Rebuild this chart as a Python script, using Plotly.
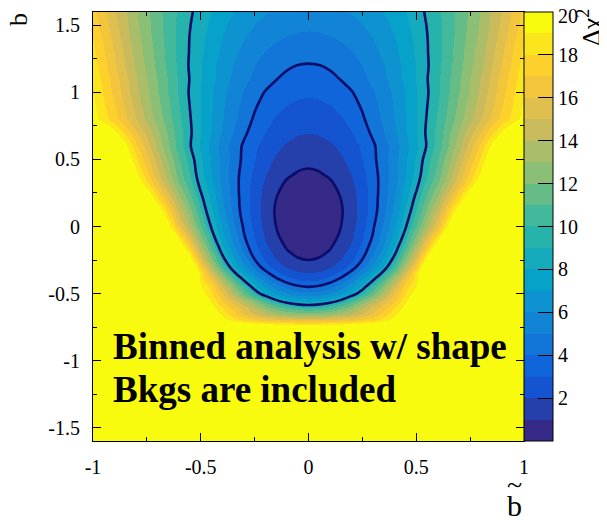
import numpy as np
import plotly.graph_objects as go

# ---------------- data ----------------
b_tilde = [-1.0, -0.9, -0.8, -0.7, -0.6, -0.5, -0.45, -0.4, -0.35, -0.3, -0.25,
           -0.2, -0.15, -0.1, -0.05, 0.0, 0.05, 0.1, 0.15, 0.2, 0.25, 0.3, 0.35,
           0.4, 0.45, 0.5, 0.6, 0.7, 0.8, 0.9, 1.0]
b_vals = [-1.6, -1.3, -1.0, -0.9, -0.8, -0.75, -0.7, -0.65, -0.6, -0.55, -0.5,
          -0.45, -0.4, -0.35, -0.3, -0.25, -0.2, -0.15, -0.1, -0.05, 0.0, 0.05,
          0.1, 0.15, 0.2, 0.25, 0.3, 0.35, 0.4, 0.5, 0.6, 0.7, 0.8, 0.9, 1.0,
          1.1, 1.2, 1.3, 1.4, 1.5, 1.6]
# delta chi^2, one row per b value (bottom to top), columns follow b_tilde
dchi2 = [
    [121, 117, 113, 110, 107, 105, 104, 103, 102.5, 102, 101.5, 101, 100.5, 100, 100, 100, 100, 100, 100.5, 101, 101.5, 102, 102.5, 103, 104, 105, 107, 110, 113, 117, 121],
    [91, 87, 83, 80, 77, 75, 74, 73, 72.5, 72, 71.5, 71, 70.5, 70, 70, 70, 70, 70, 70.5, 71, 71.5, 72, 72.5, 73, 74, 75, 77, 80, 83, 87, 91],
    [64, 60, 56, 53, 50, 48, 47.5, 47, 46.5, 46, 45.5, 45, 44.5, 44, 44, 44, 44, 44, 44.5, 45, 45.5, 46, 46.5, 47, 47.5, 48, 50, 53, 56, 60, 64],
    [53, 49, 45, 42, 39.5, 37.5, 36.7, 36, 35.5, 35, 34.7, 34.5, 34.3, 34.1, 34.02, 34, 34.02, 34.1, 34.3, 34.5, 34.7, 35, 35.5, 36, 36.7, 37.5, 39.5, 42, 45, 49, 53],
    [48, 43, 39, 35, 32.5, 30, 29.2, 28.5, 27.8, 27.2, 26.8, 26.5, 26.3, 26.1, 26.02, 26, 26.02, 26.1, 26.3, 26.5, 26.8, 27.2, 27.8, 28.5, 29.2, 30, 32.5, 35, 39, 43, 48],
    [45, 40, 35, 31, 28, 25, 24, 23, 22.3, 21.7, 21.3, 21, 20.8, 20.6, 20.52, 20.5, 20.52, 20.6, 20.8, 21, 21.3, 21.7, 22.3, 23, 24, 25, 28, 31, 35, 40, 45],
    [44, 38, 33, 29, 25, 22, 20.7, 19.5, 18.6, 17.8, 17.25, 16.8, 16.45, 16.2, 16.05, 16, 16.05, 16.2, 16.45, 16.8, 17.25, 17.8, 18.6, 19.5, 20.7, 22, 25, 29, 33, 38, 44],
    [47, 40, 34, 29, 25, 21.5, 20.1, 18.8, 17.35, 16.1, 15.1, 14.2, 13.45, 12.9, 12.6, 12.5, 12.6, 12.9, 13.45, 14.2, 15.1, 16.1, 17.35, 18.8, 20.1, 21.5, 25, 29, 34, 40, 47],
    [50, 43, 36, 30, 25, 21, 19.4, 17.9, 16.65, 15.3, 13.85, 12.5, 11.35, 10.5, 9.93, 9.74, 9.93, 10.5, 11.35, 12.5, 13.85, 15.3, 16.65, 17.9, 19.4, 21, 25, 30, 36, 43, 50],
    [60, 50, 41, 33, 26, 20.5, 18.6, 16.9, 15.27, 13.6, 11.87, 10.4, 9.07, 8.1, 7.47, 7.27, 7.47, 8.1, 9.07, 10.4, 11.87, 13.6, 15.27, 16.9, 18.6, 20.5, 26, 33, 41, 50, 60],
    [68, 56, 45, 36, 27, 19.7, 18.1, 16.3, 13.86, 11.67, 9.79, 8.23, 7, 6.11, 5.58, 5.4, 5.58, 6.11, 7, 8.23, 9.79, 11.67, 13.86, 16.3, 18.1, 19.7, 27, 36, 45, 56, 68],
    [72, 59, 47, 37, 27, 19.1, 17.6, 15.2, 12.6, 10.4, 8.38, 6.9, 5.58, 4.72, 4.18, 4, 4.18, 4.72, 5.58, 6.9, 8.38, 10.4, 12.6, 15.2, 17.6, 19.1, 27, 37, 47, 59, 72],
    [71, 58, 46, 35.5, 26, 18.5, 16.61, 13.72, 11.17, 8.96, 7.09, 5.56, 4.37, 3.52, 3.01, 2.84, 3.01, 3.52, 4.37, 5.56, 7.09, 8.96, 11.17, 13.72, 16.61, 18.5, 26, 35.5, 46, 58, 71],
    [90, 68.7, 51.4, 37.6, 26.77, 18.38, 14.98, 12.05, 9.56, 7.46, 5.74, 4.37, 3.32, 2.58, 2.15, 2, 2.15, 2.58, 3.32, 4.37, 5.74, 7.46, 9.56, 12.05, 14.98, 18.38, 26.77, 37.6, 51.4, 68.7, 90],
    [105, 77, 55, 38.6, 26.2, 17.09, 13.58, 10.65, 8.23, 6.26, 4.68, 3.45, 2.53, 1.9, 1.52, 1.4, 1.52, 1.9, 2.53, 3.45, 4.68, 6.26, 8.23, 10.65, 13.58, 17.09, 26.2, 38.6, 55, 77, 105],
    [98.5, 72, 51.4, 35.78, 24.12, 15.63, 12.35, 9.61, 7.35, 5.52, 4.05, 2.9, 2.05, 1.46, 1.11, 1, 1.11, 1.46, 2.05, 2.9, 4.05, 5.52, 7.35, 9.61, 12.35, 15.63, 24.12, 35.78, 51.4, 72, 98.5],
    [92.8, 67.7, 48.3, 33.5, 22.5, 14.48, 11.39, 8.81, 6.68, 4.95, 3.57, 2.49, 1.69, 1.13, 0.81, 0.7, 0.81, 1.13, 1.69, 2.49, 3.57, 4.95, 6.68, 8.81, 11.39, 14.48, 22.5, 33.5, 48.3, 67.7, 92.8],
    [82.28, 60.58, 43.62, 30.57, 20.71, 13.43, 10.58, 8.19, 6.2, 4.57, 3.25, 2.22, 1.44, 0.9, 0.58, 0.48, 0.58, 0.9, 1.44, 2.22, 3.25, 4.57, 6.2, 8.19, 10.58, 13.43, 20.71, 30.57, 43.62, 60.58, 82.28],
    [72.9, 54.2, 39.5, 27.95, 19.13, 12.51, 9.88, 7.66, 5.79, 4.24, 2.98, 1.99, 1.24, 0.71, 0.4, 0.3, 0.4, 0.71, 1.24, 1.99, 2.98, 4.24, 5.79, 7.66, 9.88, 12.51, 19.13, 27.95, 39.5, 54.2, 72.9],
    [61.35, 46.64, 34.71, 25.14, 17.57, 11.7, 9.31, 7.25, 5.5, 4.02, 2.8, 1.83, 1.09, 0.56, 0.25, 0.15, 0.25, 0.56, 1.09, 1.83, 2.8, 4.02, 5.5, 7.25, 9.31, 11.7, 17.57, 25.14, 34.71, 46.64, 61.35],
    [51.6, 40.2, 30.7, 22.8, 16.29, 11.06, 8.86, 6.95, 5.28, 3.87, 2.68, 1.73, 0.99, 0.47, 0.15, 0.05, 0.15, 0.47, 0.99, 1.73, 2.68, 3.87, 5.28, 6.95, 8.86, 11.06, 16.29, 22.8, 30.7, 40.2, 51.6],
    [48.21, 37.82, 29.02, 21.63, 15.52, 10.56, 8.48, 6.65, 5.05, 3.69, 2.55, 1.63, 0.92, 0.41, 0.11, 0.01, 0.11, 0.41, 0.92, 1.63, 2.55, 3.69, 5.05, 6.65, 8.48, 10.56, 15.52, 21.63, 29.02, 37.82, 48.21],
    [45, 35.5, 27.4, 20.55, 14.82, 10.13, 8.14, 6.39, 4.87, 3.56, 2.46, 1.57, 0.88, 0.39, 0.1, 0, 0.1, 0.39, 0.88, 1.57, 2.46, 3.56, 4.87, 6.39, 8.14, 10.13, 14.82, 20.55, 27.4, 35.5, 45],
    [41.05, 32.8, 25.6, 19.39, 14.12, 9.74, 7.87, 6.21, 4.75, 3.49, 2.44, 1.58, 0.91, 0.43, 0.15, 0.05, 0.15, 0.43, 0.91, 1.58, 2.44, 3.49, 4.75, 6.21, 7.87, 9.74, 14.12, 19.39, 25.6, 32.8, 41.05],
    [37.16, 30.13, 23.84, 18.29, 13.48, 9.41, 7.65, 6.08, 4.69, 3.49, 2.47, 1.64, 0.99, 0.53, 0.25, 0.16, 0.25, 0.53, 0.99, 1.64, 2.47, 3.49, 4.69, 6.08, 7.65, 9.41, 13.48, 18.29, 23.84, 30.13, 37.16],
    [34.29, 28.06, 22.4, 17.33, 12.88, 9.07, 7.42, 5.93, 4.62, 3.47, 2.5, 1.71, 1.09, 0.65, 0.38, 0.29, 0.38, 0.65, 1.09, 1.71, 2.5, 3.47, 4.62, 5.93, 7.42, 9.07, 12.88, 17.33, 22.4, 28.06, 34.29],
    [30.96, 25.7, 20.79, 16.28, 12.25, 8.74, 7.2, 5.81, 4.57, 3.49, 2.57, 1.81, 1.22, 0.8, 0.55, 0.46, 0.55, 0.8, 1.22, 1.81, 2.57, 3.49, 4.57, 5.81, 7.2, 8.74, 12.25, 16.28, 20.79, 25.7, 30.96],
    [29.66, 24.61, 19.91, 15.62, 11.79, 8.47, 7.02, 5.7, 4.54, 3.52, 2.65, 1.94, 1.38, 0.98, 0.74, 0.66, 0.74, 0.98, 1.38, 1.94, 2.65, 3.52, 4.54, 5.7, 7.02, 8.47, 11.79, 15.62, 19.91, 24.61, 29.66],
    [28.68, 23.78, 19.25, 15.13, 11.47, 8.3, 6.91, 5.66, 4.55, 3.59, 2.76, 2.09, 1.56, 1.18, 0.96, 0.88, 0.96, 1.18, 1.56, 2.09, 2.76, 3.59, 4.55, 5.66, 6.91, 8.3, 11.47, 15.13, 19.25, 23.78, 28.68],
    [26.95, 22.42, 18.23, 14.42, 11.03, 8.11, 6.83, 5.67, 4.65, 3.75, 2.99, 2.37, 1.88, 1.53, 1.32, 1.25, 1.32, 1.53, 1.88, 2.37, 2.99, 3.75, 4.65, 5.67, 6.83, 8.11, 11.03, 14.42, 18.23, 22.42, 26.95],
    [26.13, 21.48, 17.31, 13.64, 10.45, 7.76, 6.59, 5.55, 4.63, 3.84, 3.16, 2.61, 2.18, 1.88, 1.69, 1.63, 1.69, 1.88, 2.18, 2.61, 3.16, 3.84, 4.63, 5.55, 6.59, 7.76, 10.45, 13.64, 17.31, 21.48, 26.13],
    [22.5, 19.3, 16.16, 13.17, 10.42, 7.97, 6.88, 5.89, 4.99, 4.21, 3.54, 2.99, 2.56, 2.25, 2.06, 2, 2.06, 2.25, 2.56, 2.99, 3.54, 4.21, 4.99, 5.89, 6.88, 7.97, 10.42, 13.17, 16.16, 19.3, 22.5],
    [19.49, 17.33, 14.97, 12.54, 10.18, 7.99, 6.99, 6.07, 5.23, 4.5, 3.86, 3.33, 2.91, 2.61, 2.43, 2.37, 2.43, 2.61, 2.91, 3.33, 3.86, 4.5, 5.23, 6.07, 6.99, 7.99, 10.18, 12.54, 14.97, 17.33, 19.49],
    [19.25, 16.99, 14.62, 12.26, 10, 7.94, 7.01, 6.16, 5.38, 4.7, 4.12, 3.63, 3.25, 2.97, 2.81, 2.75, 2.81, 2.97, 3.25, 3.63, 4.12, 4.7, 5.38, 6.16, 7.01, 7.94, 10, 12.26, 14.62, 16.99, 19.25],
    [19, 16.65, 14.28, 11.99, 9.84, 7.91, 7.05, 6.26, 5.55, 4.92, 4.38, 3.94, 3.59, 3.34, 3.19, 3.14, 3.19, 3.34, 3.59, 3.94, 4.38, 4.92, 5.55, 6.26, 7.05, 7.91, 9.84, 11.99, 14.28, 16.65, 19],
    [18.82, 16.44, 14.11, 11.89, 9.85, 8.04, 7.23, 6.5, 5.84, 5.26, 4.76, 4.36, 4.03, 3.81, 3.67, 3.62, 3.67, 3.81, 4.03, 4.36, 4.76, 5.26, 5.84, 6.5, 7.23, 8.04, 9.85, 11.89, 14.11, 16.44, 18.82],
    [18.5, 16.1, 13.8, 11.67, 9.73, 8.02, 7.27, 6.59, 5.98, 5.45, 4.99, 4.61, 4.32, 4.11, 3.98, 3.94, 3.98, 4.11, 4.32, 4.61, 4.99, 5.45, 5.98, 6.59, 7.27, 8.02, 9.73, 11.67, 13.8, 16.1, 18.5],
    [18.25, 15.86, 13.62, 11.56, 9.72, 8.13, 7.42, 6.79, 6.23, 5.73, 5.31, 4.97, 4.7, 4.51, 4.39, 4.35, 4.39, 4.51, 4.7, 4.97, 5.31, 5.73, 6.23, 6.79, 7.42, 8.13, 9.72, 11.56, 13.62, 15.86, 18.25],
    [17.96, 15.58, 13.39, 11.43, 9.7, 8.21, 7.56, 6.98, 6.46, 6.01, 5.63, 5.32, 5.08, 4.9, 4.8, 4.76, 4.8, 4.9, 5.08, 5.32, 5.63, 6.01, 6.46, 6.98, 7.56, 8.21, 9.7, 11.43, 13.39, 15.58, 17.96],
    [17.57, 15.28, 13.2, 11.35, 9.73, 8.35, 7.75, 7.21, 6.73, 6.32, 5.97, 5.68, 5.46, 5.3, 5.2, 5.17, 5.2, 5.3, 5.46, 5.68, 5.97, 6.32, 6.73, 7.21, 7.75, 8.35, 9.73, 11.35, 13.2, 15.28, 17.57],
    [17.3, 15.08, 13.09, 11.33, 9.81, 8.53, 7.97, 7.47, 7.03, 6.65, 6.33, 6.07, 5.86, 5.72, 5.63, 5.6, 5.63, 5.72, 5.86, 6.07, 6.33, 6.65, 7.03, 7.47, 7.97, 8.53, 9.81, 11.33, 13.09, 15.08, 17.3],
]
contour_levels = [1, 4, 9]
x_tick_vals = [-1, -0.5, 0, 0.5, 1]
x_tick_text = ["-1", "-0.5", "0", "0.5", "1"]
y_tick_vals = [-1.5, -1, -0.5, 0, 0.5, 1, 1.5]
y_tick_text = ["-1.5", "-1", "-0.5", "0", "0.5", "1", "1.5"]
cbar_tick_vals = [2, 4, 6, 8, 10, 12, 14, 16, 18, 20]
cbar_tick_text = ["2", "4", "6", "8", "10", "12", "14", "16", "18", ""]
cbar_top_label = "20"
label_lines = ["Binned analysis w/ shape", "Bkgs are included"]

assert len(dchi2) == len(b_vals)
assert all(len(r) == len(b_tilde) for r in dchi2)

# ---------------- style ----------------
FONT = "Liberation Serif"
# ROOT kBird palette stops
bird_pos = [0.0, 0.125, 0.25, 0.375, 0.5, 0.625, 0.75, 0.875, 1.0]
bird_r = [0.2082, 0.0592, 0.0780, 0.0232, 0.1802, 0.5301, 0.8186, 0.9956, 0.9764]
bird_g = [0.1664, 0.3599, 0.5041, 0.6419, 0.7178, 0.7492, 0.7328, 0.7862, 0.9832]
bird_b = [0.5293, 0.8684, 0.8385, 0.7914, 0.6425, 0.4662, 0.3499, 0.1968, 0.0539]


def bird(f):
    return "rgb(%d,%d,%d)" % tuple(
        int(round(255 * np.interp(f, bird_pos, ch))) for ch in (bird_r, bird_g, bird_b))


n_bands = 20
colorscale = []
for i in range(n_bands):
    c = bird(i / (n_bands - 1))
    colorscale.append([i / n_bands, c])
    colorscale.append([(i + 1) / n_bands, c])

# page body has an 8px margin; figure sized to fit the 607x522 window
OFF = 8
W, H = 607 - OFF, 522 - OFF
L, R, T, B = 93 - OFF, 83, 12 - OFF, 81
PW, PH = W - L - R, H - T - B


def px2paper(px, py):
    """page pixel -> paper coords"""
    return (px - OFF - L) / PW, (H - B - (py - OFF)) / PH


fig = go.Figure()
fig.add_trace(go.Heatmap(
    x=b_tilde, y=b_vals, z=dchi2, zmin=0, zmax=20, colorscale=colorscale,
    zsmooth="best", hoverinfo="skip",
    colorbar=dict(
        thickness=29, len=1, lenmode="fraction", x=1, xanchor="left", xpad=0,
        y=0.5, yanchor="middle", ypad=0, tickmode="array",
        tickvals=cbar_tick_vals, ticktext=cbar_tick_text, ticks="inside",
        ticklen=15, tickcolor="black", tickwidth=1,
        tickfont=dict(family=FONT, size=20, color="black"),
        outlinewidth=1, outlinecolor="black"),
))
for lev in contour_levels:
    fig.add_trace(go.Contour(
        x=b_tilde, y=b_vals, z=dchi2, showscale=False, hoverinfo="skip",
        contours=dict(coloring="none", start=lev, end=lev, size=1),
        line=dict(color="#0c0c6a", width=2.6, smoothing=1.0),
    ))

axis_common = dict(
    showline=True, linecolor="black", linewidth=1, mirror="ticks",
    ticks="inside", ticklen=8, tickwidth=1, tickcolor="black",
    tickfont=dict(family=FONT, size=20, color="black"),
    showgrid=False, zeroline=False, ticklabelstandoff=8, automargin=False,
)
fig.update_xaxes(range=[-1, 1], tickmode="array", tickvals=x_tick_vals,
                 ticktext=x_tick_text,
                 minor=dict(ticks="inside", ticklen=4, tickmode="linear",
                            tick0=0, dtick=0.25, tickcolor="black", showgrid=False),
                 **axis_common)
fig.update_yaxes(range=[-1.6, 1.6], tickmode="array", tickvals=y_tick_vals,
                 ticktext=y_tick_text,
                 minor=dict(ticks="inside", ticklen=4, tickmode="linear",
                            tick0=0, dtick=0.25, tickcolor="black", showgrid=False),
                 **axis_common)

ann = []
x0, y0 = px2paper(18, 20)
ann.append(dict(text="b", x=x0, y=y0, textangle=-90, showarrow=False,
                xref="paper", yref="paper", xanchor="center", yanchor="middle",
                font=dict(family=FONT, size=26, color="black")))
x0, y0 = px2paper(514, 505)
ann.append(dict(text="b", x=x0, y=y0, showarrow=False, xref="paper", yref="paper",
                xanchor="center", yanchor="middle",
                font=dict(family=FONT, size=30, color="black")))
x0, y0 = px2paper(514, 484)
ann.append(dict(text="~", x=x0, y=y0, showarrow=False, xref="paper", yref="paper",
                xanchor="center", yanchor="middle",
                font=dict(family=FONT, size=28, color="black")))
x0, y0 = px2paper(590, 28)
ann.append(dict(text="Δχ<sup>2</sup>", x=x0, y=y0, textangle=-90, showarrow=False,
                xref="paper", yref="paper", xanchor="center", yanchor="middle",
                font=dict(family=FONT, size=26, color="black")))
x0, y0 = px2paper(556, 16)
ann.append(dict(text=cbar_top_label, x=x0, y=y0, showarrow=False,
                xref="paper", yref="paper", xanchor="left", yanchor="middle",
                font=dict(family=FONT, size=20, color="black")))
for line, py in zip(label_lines, [346, 389]):
    x0, y0 = px2paper(111, py)
    ann.append(dict(text="<b>%s</b>" % line, x=x0, y=y0, showarrow=False,
                    xref="paper", yref="paper", xanchor="left", yanchor="middle",
                    font=dict(family=FONT, size=37, color="black")))

fig.update_layout(
    width=W, height=H,
    margin=dict(l=L, r=R, t=T, b=B, pad=0, autoexpand=False),
    paper_bgcolor="white", plot_bgcolor="white", showlegend=False,
    annotations=ann,
)
fig.write_html("out.html")
